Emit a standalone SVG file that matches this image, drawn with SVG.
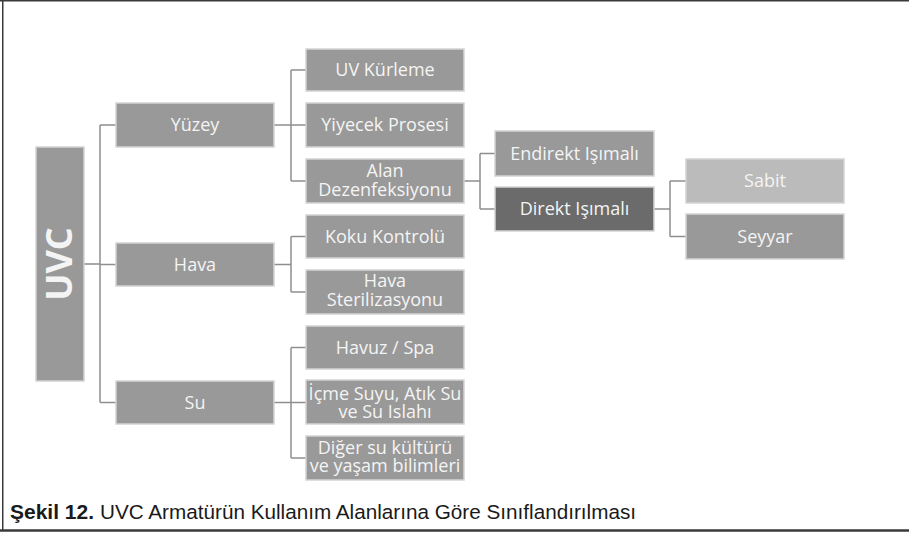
<svg xmlns="http://www.w3.org/2000/svg" width="909" height="533" viewBox="0 0 909 533">
<style>
.box{fill:#999999;stroke:#d4d4d4;stroke-width:1.5}
.dark{fill:#6b6b6b}
.light{fill:#bbbbbb}
.lbl{font-family:"Open Sans","DejaVu Sans",sans-serif;font-size:18px;fill:#f4f4f4;text-anchor:middle}
.conn{fill:none;stroke:#8f8f8f;stroke-width:1.5}
.frame{fill:none;stroke:#3a3a3a}
.cap{font-family:"Liberation Sans Narrow","Liberation Sans",Arial,sans-serif;font-size:20.5px;fill:#1a1a1a}
</style>
<rect width="909" height="533" fill="#ffffff"/>
<g id="frame">
<path class="frame" stroke-width="1.5" d="M0,0.75 H909 M2.75,0 V531"/>
<path class="frame" stroke-width="2.5" d="M0,530.5 H909"/>
</g>
<g id="connectors">
<path class="conn" d="M84,264 H100 M100,125 V402.5 M100,125 H116 M100,264.5 H116 M100,402.5 H116"/>
<path class="conn" d="M274,125 H306 M291,70 V181 M291,70 H306 M291,181 H306"/>
<path class="conn" d="M274,264.5 H291 M291,236.5 V292 M291,236.5 H306 M291,292 H306"/>
<path class="conn" d="M274,402.5 H306 M291,347.5 V458 M291,347.5 H306 M291,458 H306"/>
<path class="conn" d="M464,181 H480 M480,153.5 V209 M480,153.5 H495 M480,209 H495"/>
<path class="conn" d="M654,209 H670 M670,181 V236.5 M670,181 H686 M670,236.5 H686"/>
</g>
<g id="uvc">
<rect class="box" x="36" y="147" width="48" height="234"/>
<text transform="translate(72,264) rotate(-90)" text-anchor="middle" font-family="'Open Sans','DejaVu Sans',sans-serif" font-weight="bold" font-size="36" fill="#f4f4f4">UVC</text>
</g>
<g id="yuzey"><rect class="box" x="116" y="103" width="158" height="44"/><text class="lbl" x="195" y="131">Yüzey</text></g>
<g id="hava"><rect class="box" x="116" y="243" width="158" height="43"/><text class="lbl" x="195" y="270.5">Hava</text></g>
<g id="su"><rect class="box" x="116" y="381" width="158" height="43"/><text class="lbl" x="195" y="408.5">Su</text></g>
<g id="uv-kurleme"><rect class="box" x="306" y="49" width="158" height="42"/><text class="lbl" x="385" y="76">UV Kürleme</text></g>
<g id="yiyecek"><rect class="box" x="306" y="103" width="158" height="44"/><text class="lbl" x="385" y="131">Yiyecek Prosesi</text></g>
<g id="alan"><rect class="box" x="306" y="159" width="158" height="44"/><text class="lbl"><tspan x="385" y="177">Alan</tspan><tspan x="385" y="195.5">Dezenfeksiyonu</tspan></text></g>
<g id="koku"><rect class="box" x="306" y="215" width="158" height="43"/><text class="lbl" x="385" y="242.5">Koku Kontrolü</text></g>
<g id="hava-ster"><rect class="box" x="306" y="270" width="158" height="44"/><text class="lbl"><tspan x="385" y="287">Hava</tspan><tspan x="385" y="306">Sterilizasyonu</tspan></text></g>
<g id="havuz"><rect class="box" x="306" y="326" width="158" height="43"/><text class="lbl" x="385" y="353.5">Havuz / Spa</text></g>
<g id="icme"><rect class="box" x="306" y="380" width="158" height="44"/><text class="lbl"><tspan x="385" y="399.5">İçme Suyu, Atık Su</tspan><tspan x="385" y="417.5">ve Su Islahı</tspan></text></g>
<g id="diger"><rect class="box" x="306" y="436" width="158" height="44"/><text class="lbl"><tspan x="385" y="454">Diğer su kültürü</tspan><tspan x="385" y="472">ve yaşam bilimleri</tspan></text></g>
<g id="endirekt"><rect class="box" x="495" y="131" width="159" height="45"/><text class="lbl" x="574.5" y="159.5">Endirekt Işımalı</text></g>
<g id="direkt"><rect class="box dark" x="495" y="187" width="159" height="44"/><text class="lbl" x="574.5" y="215">Direkt Işımalı</text></g>
<g id="sabit"><rect class="box light" x="686" y="159" width="158" height="44"/><text class="lbl" x="765" y="187">Sabit</text></g>
<g id="seyyar"><rect class="box" x="686" y="214" width="158" height="45"/><text class="lbl" x="765" y="242.5">Seyyar</text></g>
<g id="caption">
<text class="cap" x="10" y="519" font-weight="bold" textLength="84" lengthAdjust="spacingAndGlyphs">Şekil 12.</text>
<text class="cap" x="100" y="519" textLength="536" lengthAdjust="spacingAndGlyphs">UVC Armatürün Kullanım Alanlarına Göre Sınıflandırılması</text>
</g>
</svg>
